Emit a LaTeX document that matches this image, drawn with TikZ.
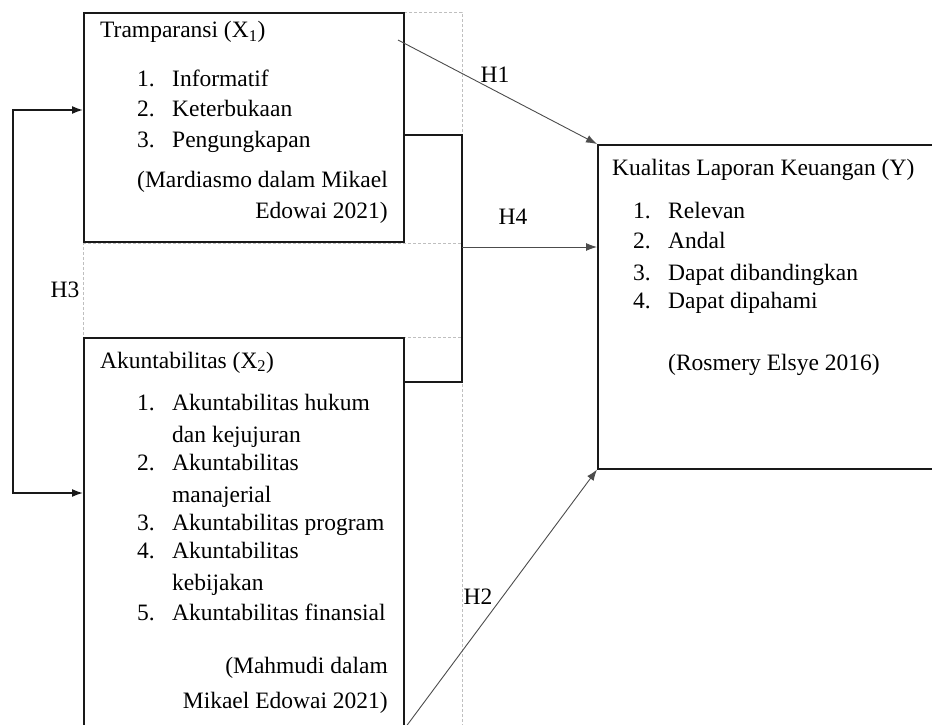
\documentclass[tikz,border=0pt]{standalone}
\usepackage{fontspec}
\setmainfont{Liberation Serif}
\usetikzlibrary{arrows.meta}

\newcommand{\li}[2]{\makebox[35pt][l]{#1}#2}

\tikzset{
  box/.style={draw=black!90, line width=1.6pt, anchor=north west, inner sep=0pt},
  txt/.style={anchor=base west, inner sep=0pt, font=\fontsize{23.5}{30}\selectfont},
  cite/.style={txt, anchor=base east},
  lbl/.style={inner sep=0pt, font=\fontsize{23.5}{30}\selectfont},
  arr/.style={>={Latex[length=11pt,width=8pt]}, ->, line width=0.9pt, draw=black!70},
  link/.style={line width=1.6pt, draw=black!90},
  guide/.style={draw=black!25, line width=0.6pt, dash pattern=on 3pt off 2pt}
}

\begin{document}
\begin{tikzpicture}
      [x=1pt, y=-1pt]
      \useasboundingbox (0,0) rectangle (932,725);

      % frame of the two X boxes
      \draw[guide] (83,12) rectangle (462,760);
      \draw[guide] (83,243) -- (462,243);
      \draw[guide] (83,337) -- (462,337);

      \node[box, minimum width=320pt, minimum height=229pt] (x1) at (83,12) {};
      \node[box, minimum width=320pt, minimum height=420pt] (x2) at (83,337) {};
      \node[box, minimum width=400pt, minimum height=324pt] (y) at (597,144) {};

      % Transparansi
      \node[txt] (x1title) at (100,38) {Tramparansi (X\textsubscript{1})};
      \node[txt] (x1a) at (137,87) {\li{1.}{Informatif}};
      \node[txt] (x1b) at (137,117) {\li{2.}{Keterbukaan}};
      \node[txt] (x1c) at (137,147) {\li{3.}{Pengungkapan}};
      \node[cite] (x1cite1) at (388,187) {(Mardiasmo dalam Mikael};
      \node[cite] (x1cite2) at (388,218) {Edowai 2021)};

      % Akuntabilitas
      \node[txt] (x2title) at (100,368) {Akuntabilitas (X\textsubscript{2})};
      \node[txt] (x2a) at (137,410) {\li{1.}{Akuntabilitas hukum}};
      \node[txt] (x2a2) at (172,442) {dan kejujuran};
      \node[txt] (x2b) at (137,470) {\li{2.}{Akuntabilitas}};
      \node[txt] (x2b2) at (172,502) {manajerial};
      \node[txt] (x2c) at (137,530) {\li{3.}{Akuntabilitas program}};
      \node[txt] (x2d) at (137,558) {\li{4.}{Akuntabilitas}};
      \node[txt] (x2d2) at (172,590) {kebijakan};
      \node[txt] (x2e) at (137,620) {\li{5.}{Akuntabilitas finansial}};
      \node[cite] (x2cite1) at (388,673) {(Mahmudi dalam};
      \node[cite] (x2cite2) at (388,708) {Mikael Edowai 2021)};

      % Kualitas laporan keuangan
      \node[txt] (ytitle) at (612,175) {Kualitas Laporan Keuangan (Y)};
      \node[txt] (ya) at (633,218) {\li{1.}{Relevan}};
      \node[txt] (yb) at (633,248) {\li{2.}{Andal}};
      \node[txt] (yc) at (633,280) {\li{3.}{Dapat dibandingkan}};
      \node[txt] (yd) at (633,308) {\li{4.}{Dapat dipahami}};
      \node[txt] (ycite) at (668,370) {(Rosmery Elsye 2016)};

      % hypotheses
      \coordinate (h1s) at (398,40);
      \coordinate (h2s) at (405,728);
      \coordinate (h3a) at (13,110);
      \coordinate (h3b) at (13,493);
      \coordinate (h4a) at (462,135);
      \coordinate (h4b) at (462,382);
      \coordinate (h4m) at (462,247);

      \draw[arr] (h1s) -- (y.north west);
      \draw[arr] (h2s) -- (y.south west);
      \draw[link, >={Latex[length=11pt,width=8pt]}, <->] (x1.west |- h3a) -- (h3a) -- (h3b) -- (x2.west |- h3b);
      \draw[link] (x1.east |- h4a) -- (h4a) -- (h4b) -- (x2.east |- h4b);
      \draw[arr] (h4m) -- (y.west |- h4m);

      \node[lbl] (h1) at (495,75) {H1};
      \node[lbl] (h2) at (478,597) {H2};
      \node[lbl] (h3) at (65,290) {H3};
      \node[lbl] (h4) at (513,217) {H4};
    \end{tikzpicture}
\end{document}
